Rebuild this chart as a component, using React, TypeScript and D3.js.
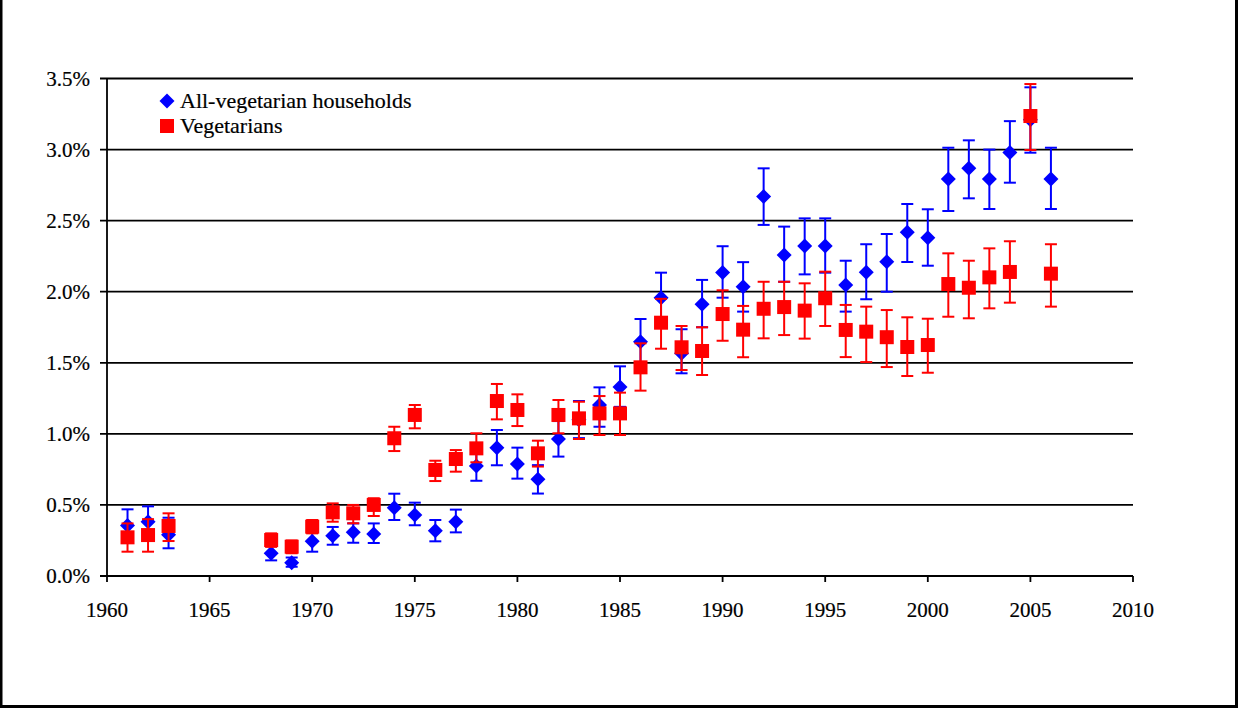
import React from "react";
import * as d3 from "d3";

const hhYears = [1961, 1962, 1963, 1968, 1969, 1970, 1971, 1972, 1973, 1974, 1975, 1976, 1977, 1978, 1979, 1980, 1981, 1982, 1983, 1984, 1985, 1986, 1987, 1988, 1989, 1990, 1991, 1992, 1993, 1994, 1995, 1996, 1997, 1998, 1999, 2000, 2001, 2002, 2003, 2004, 2005, 2006];
const hhValue = [0.355, 0.382, 0.29, 0.16, 0.094, 0.244, 0.284, 0.307, 0.295, 0.48, 0.429, 0.319, 0.382, 0.774, 0.903, 0.788, 0.68, 0.964, 1.10, 1.203, 1.33, 1.648, 1.958, 1.567, 1.912, 2.136, 2.035, 2.669, 2.258, 2.322, 2.322, 2.047, 2.137, 2.211, 2.418, 2.38, 2.793, 2.868, 2.793, 2.98, 3.21, 2.793];
const hhUpper = [0.469, 0.49, 0.41, 0.21, 0.13, 0.32, 0.345, 0.37, 0.37, 0.579, 0.516, 0.394, 0.467, 0.863, 1.027, 0.903, 0.78, 1.09, 1.231, 1.327, 1.475, 1.808, 2.134, 1.736, 2.083, 2.32, 2.208, 2.868, 2.458, 2.516, 2.516, 2.218, 2.334, 2.406, 2.617, 2.58, 3.013, 3.065, 3.0, 3.2, 3.438, 3.013];
const hhLower = [0.245, 0.275, 0.195, 0.11, 0.065, 0.171, 0.22, 0.234, 0.232, 0.394, 0.357, 0.244, 0.307, 0.67, 0.779, 0.685, 0.58, 0.84, 0.97, 1.05, 1.19, 1.49, 1.78, 1.426, 1.75, 1.958, 1.86, 2.47, 2.07, 2.122, 2.134, 1.86, 1.947, 2.0, 2.209, 2.183, 2.568, 2.657, 2.582, 2.767, 2.978, 2.582];

const vegYears = [1961, 1962, 1963, 1968, 1969, 1970, 1971, 1972, 1973, 1974, 1975, 1976, 1977, 1978, 1979, 1980, 1981, 1982, 1983, 1984, 1985, 1986, 1987, 1988, 1989, 1990, 1991, 1992, 1993, 1994, 1995, 1996, 1997, 1998, 1999, 2000, 2001, 2002, 2003, 2004, 2005, 2006];
const vegValue = [0.272, 0.288, 0.352, 0.253, 0.206, 0.347, 0.448, 0.441, 0.5, 0.969, 1.133, 0.746, 0.823, 0.898, 1.231, 1.168, 0.863, 1.133, 1.109, 1.144, 1.144, 1.468, 1.782, 1.609, 1.583, 1.843, 1.733, 1.88, 1.892, 1.867, 1.954, 1.731, 1.719, 1.68, 1.611, 1.625, 2.054, 2.028, 2.101, 2.139, 3.236, 2.127];
const vegUpper = [0.37, 0.40, 0.441, 0.30, 0.25, 0.394, 0.511, 0.5, 0.547, 1.05, 1.203, 0.811, 0.886, 1.004, 1.351, 1.278, 0.952, 1.238, 1.226, 1.266, 1.29, 1.637, 1.95, 1.759, 1.75, 2.01, 1.9, 2.07, 2.07, 2.059, 2.141, 1.907, 1.895, 1.871, 1.82, 1.81, 2.27, 2.218, 2.305, 2.355, 3.461, 2.334];
const vegLower = [0.171, 0.171, 0.246, 0.205, 0.16, 0.30, 0.382, 0.371, 0.422, 0.879, 1.039, 0.668, 0.734, 0.80, 1.102, 1.055, 0.77, 1.004, 0.964, 0.992, 0.992, 1.304, 1.599, 1.449, 1.414, 1.655, 1.539, 1.672, 1.695, 1.67, 1.759, 1.54, 1.505, 1.47, 1.407, 1.43, 1.824, 1.813, 1.883, 1.923, 2.997, 1.895];

const yTicks = [0, 0.5, 1.0, 1.5, 2.0, 2.5, 3.0, 3.5];
const xTicks = [1960, 1965, 1970, 1975, 1980, 1985, 1990, 1995, 2000, 2005, 2010];
const seriesNames = ["All-vegetarian households", "Vegetarians"];

const W = 1239;
const H = 708;
const FONT = "'Liberation Serif', 'Times New Roman', serif";

export default function App() {
  const x = d3.scaleLinear().domain([1960, 2010]).range([107, 1133]);
  const y = d3.scaleLinear().domain([0, 3.5]).range([576, 78.5]);

  const diamond = (cx: number, cy: number, r: number) =>
    `M${cx},${cy - r}L${cx + r},${cy}L${cx},${cy + r}L${cx - r},${cy}Z`;

  const capHalf = 6;
  const renderErr = (years: number[], up: number[], lo: number[], color: string, key: string) =>
    years.map((yr, i) => {
      const cx = x(yr);
      const y1 = y(up[i]);
      const y2 = y(lo[i]);
      return (
        <g key={key + i} stroke={color} strokeWidth={2}>
          <line x1={cx} x2={cx} y1={y1} y2={y2} />
          <line x1={cx - capHalf} x2={cx + capHalf} y1={y1} y2={y1} />
          <line x1={cx - capHalf} x2={cx + capHalf} y1={y2} y2={y2} />
        </g>
      );
    });

  return (
    <div style={{ position: "absolute", left: 0, top: 0 }}>
      <svg width={W} height={H} style={{ display: "block" }}>
        <rect x={0} y={0} width={W} height={H} fill="#fff" />
        {/* frame */}
        <rect x={1} y={-10} width={1235.5} height={716.5} fill="none" stroke="#000" strokeWidth={3} />

        {/* gridlines */}
        {yTicks.map((t) => (
          <line key={"g" + t} x1={100} x2={x(2010)} y1={y(t)} y2={y(t)} stroke="#000" strokeWidth={1.8} />
        ))}
        {/* y axis */}
        <line x1={x(1960)} x2={x(1960)} y1={y(3.5)} y2={y(0)} stroke="#000" strokeWidth={1.8} />
        {/* x ticks */}
        {xTicks.map((t) => (
          <line key={"xt" + t} x1={x(t)} x2={x(t)} y1={y(0)} y2={y(0) + 6} stroke="#000" strokeWidth={1.8} />
        ))}
        {/* y labels */}
        {yTicks.map((t) => (
          <text key={"yl" + t} x={90} y={y(t) + 7} textAnchor="end" fontFamily={FONT} fontSize={21} fill="#000" stroke="#000" strokeWidth={0.2}>
            {t.toFixed(1) + "%"}
          </text>
        ))}
        {/* x labels */}
        {xTicks.map((t) => (
          <text key={"xl" + t} x={x(t)} y={617} textAnchor="middle" fontFamily={FONT} fontSize={21} fill="#000" stroke="#000" strokeWidth={0.2}>
            {t}
          </text>
        ))}

        {/* blue series */}
        {renderErr(hhYears, hhUpper, hhLower, "#0000FF", "he")}
        {hhYears.map((yr, i) => (
          <path key={"hm" + i} d={diamond(x(yr), y(hhValue[i]), 7.5)} fill="#0000FF" />
        ))}
        {/* red series */}
        {renderErr(vegYears, vegUpper, vegLower, "#FF0000", "ve")}
        {vegYears.map((yr, i) => (
          <rect key={"vm" + i} x={x(yr) - 7} y={y(vegValue[i]) - 7} width={14} height={14} fill="#FF0000" />
        ))}

        {/* legend */}
        <path d={diamond(167, 101, 7.5)} fill="#0000FF" />
        <text x={180} y={108} fontFamily={FONT} fontSize={22} fill="#000" stroke="#000" strokeWidth={0.2}>{seriesNames[0]}</text>
        <rect x={160} y={119} width={14} height={14} fill="#FF0000" />
        <text x={180} y={133} fontFamily={FONT} fontSize={22} fill="#000" stroke="#000" strokeWidth={0.2}>{seriesNames[1]}</text>
      </svg>
    </div>
  );
}
